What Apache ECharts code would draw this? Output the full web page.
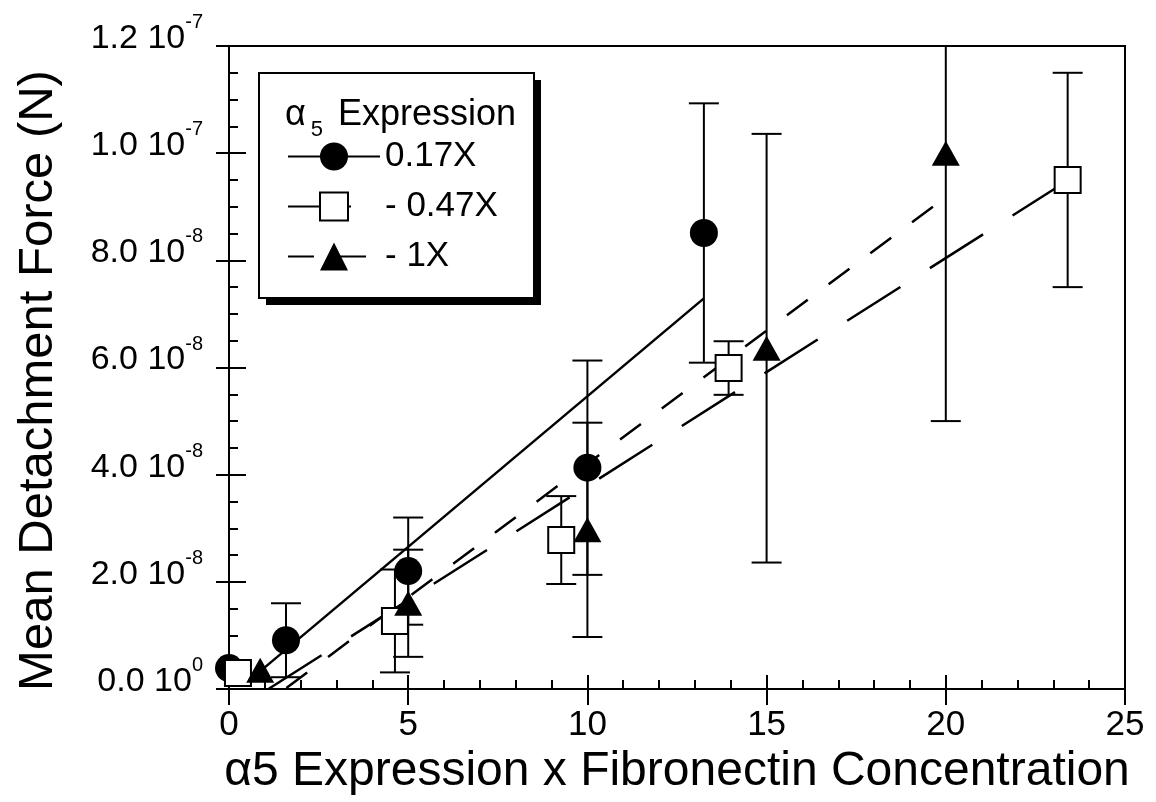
<!DOCTYPE html>
<html>
<head>
<meta charset="utf-8">
<script src="https://cdn.jsdelivr.net/npm/echarts@6/dist/echarts.min.js"></script>
<style>
  html, body { margin: 0; padding: 0; background: #fff; }
  #main { width: 1156px; height: 802px; }
</style>
</head>
<body>
<div id="main"></div>
<script>
// values in units of 1e-8 N
const circX = [0, 1.59, 5, 10, 13.25];
const circY = [0.39, 0.91, 2.2, 4.13, 8.51];
const circErr = [0, 0.69, 1.0, 2.0, 2.42];

const sqX = [0.25, 4.63, 9.27, 13.94, 23.4];
const sqY = [0.3, 1.27, 2.78, 5.99, 9.5];
const sqErr = [0, 0.96, 0.82, 0.5, 2.0];

const triX = [0.87, 5, 10, 15, 20];
const triY = [0.35, 1.6, 2.97, 6.36, 10.0];
const triErr = [0, 1.0, 2.0, 4.0, 5.0];

// fitted lines, end points
const fitCirc = [[0.6, 0.18], [13.25, 7.29]];
const fitSq = [[1.1, 0.0], [23.4, 9.49]];
const fitTri = [[1.6, 0.02], [20, 9.18]];

const yTickMant = ['0.0', '2.0', '4.0', '6.0', '8.0', '1.0', '1.2'];
const yTickExp = ['0', '-8', '-8', '-8', '-8', '-7', '-7'];

const FONT = 'Liberation Sans';

function pts(xs, ys) {
  return xs.map((x, i) => [x, ys[i]]);
}
function errs(xs, ys, es) {
  return xs.map((x, i) => [x, ys[i] - es[i], ys[i] + es[i], es[i]]);
}

function renderErr(params, api) {
  if (api.value(3) <= 0) return null;
  const x = api.value(0);
  const top = api.coord([x, api.value(2)]);
  const bot = api.coord([x, api.value(1)]);
  const w = 15;
  const st = { stroke: '#000', lineWidth: 2 };
  return {
    type: 'group',
    children: [
      { type: 'line', shape: { x1: top[0], y1: top[1], x2: bot[0], y2: bot[1] }, style: st },
      { type: 'line', shape: { x1: top[0] - w, y1: top[1], x2: top[0] + w, y2: top[1] }, style: st },
      { type: 'line', shape: { x1: bot[0] - w, y1: bot[1], x2: bot[0] + w, y2: bot[1] }, style: st }
    ]
  };
}

const chart = echarts.init(document.getElementById('main'));

const axisLine = { show: true, lineStyle: { color: '#000', width: 2 } };

chart.setOption({
  backgroundColor: '#fff',
  animation: false,
  textStyle: { fontFamily: FONT, color: '#000' },
  grid: {
    left: 229, top: 46, width: 896, height: 643,
    show: true, borderColor: '#000', borderWidth: 2, backgroundColor: 'transparent'
  },
  title: {
    text: '{a|α}{s|5}{a| Expression}',
    left: 280, top: 84, z: 20,
    textStyle: {
      fontWeight: 'normal',
      rich: {
        a: { fontFamily: FONT, fontSize: 36, fontWeight: 'normal', color: '#000' },
        s: { fontFamily: FONT, fontSize: 22, fontWeight: 'normal', color: '#000', padding: [30, 5, 0, 5] }
      }
    }
  },
  legend: {
    data: ['0.17X', '- 0.47X', '- 1X'],
    orient: 'vertical',
    left: 287, top: 139, z: 20,
    padding: 0,
    itemWidth: 92, itemHeight: 35, itemGap: 15,
    selectedMode: false,
    textStyle: { fontFamily: FONT, fontSize: 35, color: '#000', lineHeight: 35 }
  },
  graphic: [{
    type: 'rect',
    left: 266, top: 80, z: 10,
    shape: { width: 275, height: 225 },
    style: { fill: '#000' }
  }, {
    type: 'rect',
    left: 258, top: 72, z: 11,
    shape: { width: 275, height: 225 },
    style: { fill: '#fff', stroke: '#000', lineWidth: 2 }
  }],
  xAxis: [{
    type: 'value', min: 0, max: 25, interval: 5,
    axisLine: axisLine,
    splitLine: { show: false },
    axisTick: { show: true, inside: false, length: 16, lineStyle: { color: '#000', width: 2 } },
    axisLabel: { fontFamily: FONT, fontSize: 35, color: '#000', margin: 19 },
    name: 'α5 Expression x Fibronectin Concentration',
    nameLocation: 'middle', nameGap: 57,
    nameTextStyle: { fontFamily: FONT, fontSize: 48, color: '#000' }
  }, {
    type: 'value', min: 0, max: 25, interval: 5, position: 'bottom',
    axisLine: { show: false },
    splitLine: { show: false },
    axisLabel: { show: false },
    axisTick: { show: true, inside: true, length: 14, lineStyle: { color: '#000', width: 2 } },
    minorTick: { show: true, splitNumber: 5, length: 9, lineStyle: { color: '#000', width: 2 } }
  }],
  yAxis: [{
    type: 'value', min: 0, max: 12, interval: 2,
    axisLine: axisLine,
    splitLine: { show: false },
    axisTick: { show: true, inside: false, length: 13, lineStyle: { color: '#000', width: 2 } },
    axisLabel: {
      margin: 26,
      formatter: v => {
        const i = Math.round(v / 2);
        return '{n|' + yTickMant[i] + ' 10}{e|' + yTickExp[i] + '}';
      },
      rich: {
        n: { fontFamily: FONT, fontSize: 34, color: '#000', padding: [0, 0, 15, 0] },
        e: { fontFamily: FONT, fontSize: 20, color: '#000', padding: [0, 0, 47, 0] }
      }
    },
    name: 'Mean Detachment Force (N)',
    nameLocation: 'middle', nameGap: 166, nameRotate: 90,
    nameTextStyle: { fontFamily: FONT, fontSize: 49, color: '#000', padding: [0, 26, 0, 0] }
  }, {
    type: 'value', min: 0, max: 12, interval: 2, position: 'left',
    axisLine: { show: false },
    splitLine: { show: false },
    axisLabel: { show: false },
    axisTick: { show: true, inside: true, length: 17, lineStyle: { color: '#000', width: 2 } },
    minorTick: { show: true, splitNumber: 4, length: 9, lineStyle: { color: '#000', width: 2 } }
  }],
  series: [
    {
      name: '0.17X', type: 'line', data: fitCirc, z: 3,
      showSymbol: false, symbol: 'circle', symbolSize: 28,
      itemStyle: { color: '#000' },
      lineStyle: { color: '#000', width: 2.5, type: 'solid' }
    },
    {
      name: '- 0.47X', type: 'line', data: fitSq, z: 3,
      showSymbol: false, symbol: 'rect', symbolSize: 26,
      itemStyle: { color: '#fff', borderColor: '#000', borderWidth: 2 },
      lineStyle: { color: '#000', width: 2.5, type: [63, 35] }
    },
    {
      name: '- 1X', type: 'line', data: fitTri, z: 3,
      showSymbol: false, symbol: 'triangle', symbolSize: 28,
      itemStyle: { color: '#000' },
      lineStyle: { color: '#000', width: 2.5, type: [26, 26] }
    },
    { type: 'custom', name: 'errC', data: errs(circX, circY, circErr), renderItem: renderErr, clip: true, z: 2 },
    { type: 'custom', name: 'errS', data: errs(sqX, sqY, sqErr), renderItem: renderErr, clip: true, z: 2 },
    { type: 'custom', name: 'errT', data: errs(triX, triY, triErr), renderItem: renderErr, clip: true, z: 2 },
    {
      name: 'ptsC', type: 'scatter', data: pts(circX, circY), z: 5,
      symbol: 'circle', symbolSize: 28, itemStyle: { color: '#000', opacity: 1 }
    },
    {
      name: 'ptsS', type: 'scatter', data: pts(sqX, sqY), z: 5,
      symbol: 'rect', symbolSize: 26,
      itemStyle: { color: '#fff', borderColor: '#000', borderWidth: 2, opacity: 1 }
    },
    {
      name: 'ptsT', type: 'scatter', data: pts(triX, triY), z: 5,
      symbol: 'triangle', symbolSize: [28, 25], itemStyle: { color: '#000', opacity: 1 }
    }
  ]
});
</script>
</body>
</html>
